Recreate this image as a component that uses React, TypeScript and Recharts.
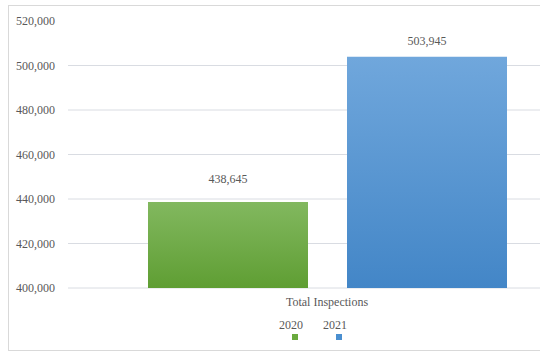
import React from 'react';
import { BarChart, Bar, XAxis, YAxis, CartesianGrid, LabelList } from 'recharts';

const categories = ['Total Inspections'];
const series2020 = [438645];
const series2021 = [503945];
const yTicks = [400000, 420000, 440000, 460000, 480000, 500000, 520000];
const gridValues = [400000, 420000, 440000, 460000, 480000, 500000];
const legendItems = [
  { name: '2020', color: '#6aaa3e' },
  { name: '2021', color: '#4a8fd0' },
];

const data = categories.map((c, i) => ({ name: c, y2020: series2020[i], y2021: series2021[i] }));

const font = '"Liberation Serif", "Times New Roman", serif';
const textColor = '#595959';
const fmt = (v: number) => v.toLocaleString('en-US');

const App: React.FC = () => {
  return (
    <div style={{ position: 'absolute', left: 0, top: 0, width: 540, height: 358, overflow: 'hidden', background: '#fff' }}>
      <div
        style={{
          position: 'absolute',
          left: 8,
          top: 5,
          width: 600,
          height: 346,
          boxSizing: 'border-box',
          border: '1px solid #d9d9d9',
          fontFamily: font,
        }}
      >
        <BarChart
          width={598}
          height={344}
          data={data}
          margin={{ top: 15, right: 21, left: 0, bottom: 32 }}
          barGap={39}
          barSize={160}
        >
          <defs>
            <linearGradient id="g2020" x1="0" y1="0" x2="0" y2="1">
              <stop offset="0%" stopColor="#82b85f" />
              <stop offset="100%" stopColor="#5f9e33" />
            </linearGradient>
            <linearGradient id="g2021" x1="0" y1="0" x2="0" y2="1">
              <stop offset="0%" stopColor="#70a7dc" />
              <stop offset="100%" stopColor="#4386c7" />
            </linearGradient>
          </defs>
          <CartesianGrid vertical={false} stroke="#d9dce2" horizontalValues={gridValues} />
          <XAxis
            dataKey="name"
            axisLine={false}
            tickLine={false}
            height={30}
            tickMargin={3}
            tick={{ fontSize: 12, fill: textColor, fontFamily: font }}
          />
          <YAxis
            width={59}
            domain={[400000, 520000]}
            ticks={yTicks}
            allowDataOverflow
            axisLine={false}
            tickLine={false}
            tickMargin={7}
            tickFormatter={fmt}
            tick={{ fontSize: 12, fill: textColor, fontFamily: font }}
          />
          <Bar dataKey="y2020" fill="url(#g2020)" isAnimationActive={false}>
            <LabelList
              dataKey="y2020"
              position="top"
              offset={19}
              formatter={(v: any) => fmt(Number(v))}
              style={{ fontSize: 12, fill: textColor, fontFamily: font }}
            />
          </Bar>
          <Bar dataKey="y2021" fill="url(#g2021)" isAnimationActive={false}>
            <LabelList
              dataKey="y2021"
              position="top"
              offset={12}
              formatter={(v: any) => fmt(Number(v))}
              style={{ fontSize: 12, fill: textColor, fontFamily: font }}
            />
          </Bar>
        </BarChart>
        <div
          style={{
            position: 'absolute',
            left: 270,
            top: 312,
            display: 'flex',
            gap: 20,
            fontSize: 12,
            color: textColor,
            lineHeight: '14px',
          }}
        >
          {legendItems.map((it) => (
            <div key={it.name} style={{ display: 'flex', flexDirection: 'column', alignItems: 'flex-start' }}>
              <span>{it.name}</span>
              <span
                style={{ width: 6, height: 6, background: it.color, marginTop: 2, marginLeft: 13 }}
              />
            </div>
          ))}
        </div>
      </div>
    </div>
  );
};

export default App;
